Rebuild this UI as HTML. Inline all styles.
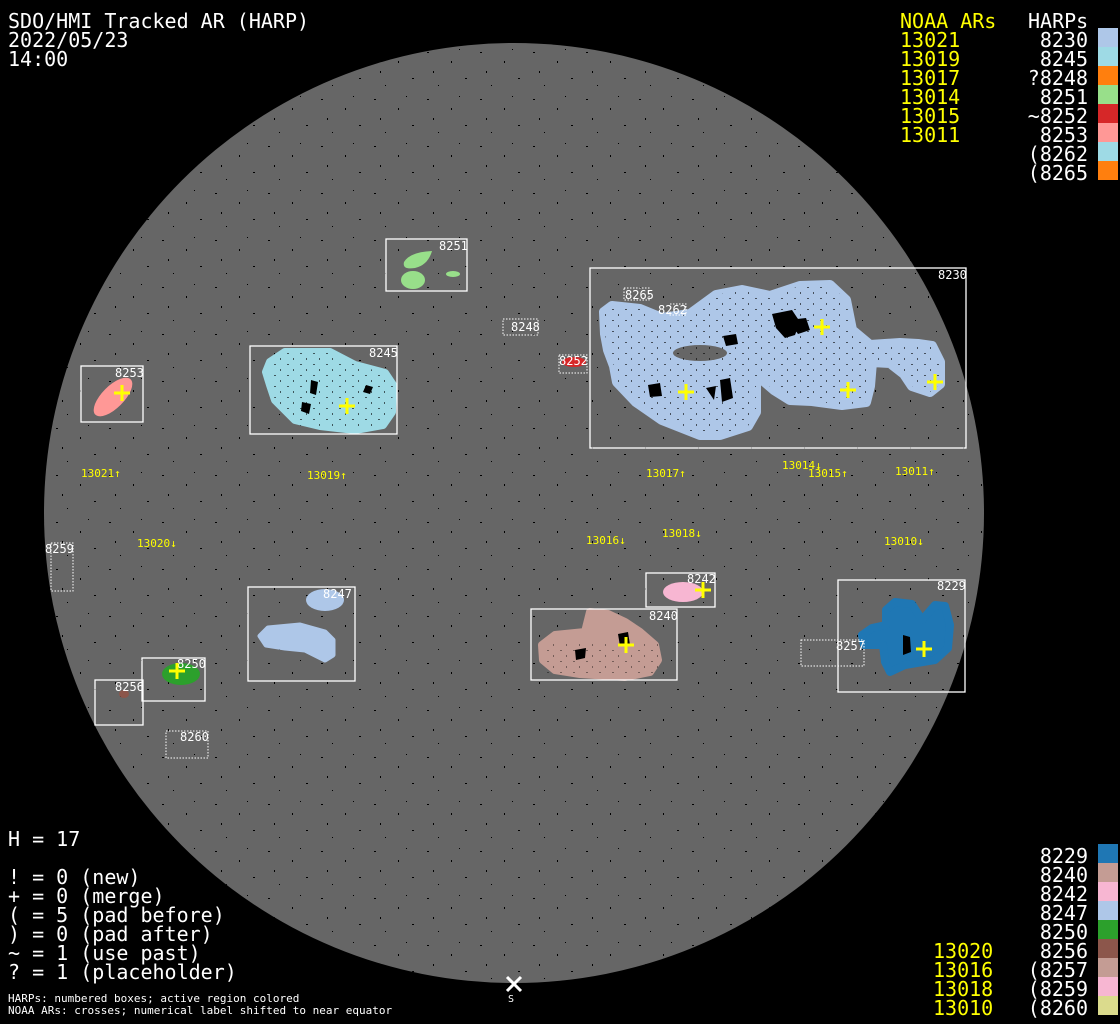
<!DOCTYPE html>
<html><head><meta charset="utf-8"><style>
html,body{margin:0;padding:0;background:#000;}
svg{display:block}
text{font-family:"DejaVu Sans Mono","Liberation Mono",monospace;}
</style></head><body>
<svg width="1120" height="1024" viewBox="0 0 1120 1024" xmlns="http://www.w3.org/2000/svg">
<defs>
<pattern id="dots" width="53" height="47" patternUnits="userSpaceOnUse">
<rect x="3" y="5" width="2" height="1" fill="#000"/>
<rect x="27" y="14" width="1" height="2" fill="#000"/>
<rect x="41" y="31" width="2" height="1" fill="#000"/>
<rect x="14" y="38" width="1" height="1" fill="#000"/>
<rect x="35" y="2" width="1" height="1" fill="#000"/>
<rect x="9" y="24" width="1" height="2" fill="#000"/>
</pattern>
<pattern id="spots" width="13" height="11" patternUnits="userSpaceOnUse">
<rect x="1" y="1" width="2" height="1" fill="#000"/>
<rect x="7" y="6" width="1" height="2" fill="#000"/>
</pattern>
<clipPath id="disk"><circle cx="514" cy="513" r="470"/></clipPath>
</defs>
<rect width="1120" height="1024" fill="#000"/>
<circle cx="514" cy="513" r="470" fill="#666"/>
<rect x="40" y="40" width="950" height="950" fill="url(#dots)" clip-path="url(#disk)"/>

<g stroke-linejoin="round">
<path d="M604,312 L612,306 L640,309 L662,318 L690,314 L716,295 L742,290 L770,296 L800,286 L830,285 L846,300 L852,330 L870,345 L900,343 L918,344 L932,346 L940,362 L940,384 L930,392 L912,386 L904,374 L890,363 L872,362 L870,386 L866,402 L842,405 L812,401 L790,400 L774,390 L760,378 L756,384 L756,412 L748,426 L720,435 L700,435 L662,420 L636,402 L617,382 L614,366 L608,350 L605,334 Z" fill="#aec7e8" stroke="#aec7e8" stroke-width="10"/>
<ellipse cx="700" cy="353" rx="27" ry="8" fill="#666"/>
<path d="M604,312 L612,306 L640,309 L662,318 L690,314 L716,295 L742,290 L770,296 L800,286 L830,285 L846,300 L852,330 L870,345 L900,343 L918,344 L932,346 L940,362 L940,384 L930,392 L912,386 L904,374 L890,363 L872,362 L870,386 L866,402 L842,405 L812,401 L790,400 L774,390 L760,378 L756,384 L756,412 L748,426 L720,435 L700,435 L662,420 L636,402 L617,382 L614,366 L608,350 L605,334 Z" fill="url(#spots)" opacity="0.6"/>
<path d="M772,314 L792,310 L800,322 L795,335 L785,338 L776,328Z M788,320 L806,318 L810,330 L798,334Z M720,380 L730,378 L733,398 L722,402Z M706,388 L716,386 L714,400Z M648,385 L660,383 L662,396 L650,397Z M723,336 L736,334 L738,344 L726,346Z" fill="#000"/>

<path d="M270,362 L285,352 L330,352 L355,365 L385,373 L393,385 L392,412 L383,425 L355,430 L320,426 L295,420 L275,400 L270,385 L266,372 Z" fill="#9edae5" stroke="#9edae5" stroke-width="8"/>
<path d="M270,362 L285,352 L330,352 L355,365 L385,373 L393,385 L392,412 L383,425 L355,430 L320,426 L295,420 L275,400 L270,385 Z" fill="url(#spots)" opacity="0.6"/>
<path d="M311,380 L318,382 L316,395 L310,393Z M302,402 L311,404 L309,414 L301,411Z M366,385 L373,387 L370,394 L363,392Z" fill="#000"/>

<path d="M404,262 Q410,252 432,251 Q428,265 415,268 Q402,270 404,262Z" fill="#98df8a"/>
<ellipse cx="413" cy="280" rx="12" ry="9" fill="#98df8a"/>
<ellipse cx="453" cy="274" rx="7" ry="3" fill="#98df8a"/>

<ellipse cx="113" cy="397" rx="25" ry="11" transform="rotate(-45 113 397)" fill="#ff9896"/>
<ellipse cx="574" cy="362" rx="12" ry="5" fill="#d62728"/>

<path d="M268,628 L300,625 L325,632 L333,640 L333,655 L325,660 L305,650 L285,648 L266,645 L260,636Z" fill="#aec7e8" stroke="#aec7e8" stroke-width="5" stroke-linejoin="round"/>
<ellipse cx="325" cy="600" rx="19" ry="11" fill="#aec7e8"/>
<ellipse cx="683" cy="592" rx="20" ry="10" fill="#f7b6d2"/>
<path d="M590,612 L608,614 L625,622 L640,632 L655,645 L658,660 L650,672 L625,677 L580,674 L555,670 L543,660 L542,645 L555,635 L585,632 L588,620Z" fill="#c49c94" stroke="#c49c94" stroke-width="8" stroke-linejoin="round"/>
<path d="M542,640 L660,640 L660,675 L542,675Z" fill="url(#spots)" opacity="0.4"/>
<path d="M575,650 L586,648 L585,658 L576,660Z M618,634 L628,632 L630,645 L620,646Z" fill="#000"/>
<path d="M895,602 L912,604 L922,620 L935,605 L945,606 L950,625 L948,648 L935,660 L905,665 L890,672 L885,662 L883,645 L864,645 L862,635 L872,628 L886,625 L886,610Z" fill="#1f77b4" stroke="#1f77b4" stroke-width="8" stroke-linejoin="round"/>
<path d="M903,635 L910,637 L911,652 L903,655Z" fill="#000"/>
<ellipse cx="181" cy="674" rx="19" ry="11" fill="#2ca02c"/>
<ellipse cx="124" cy="694" rx="5" ry="4" fill="#8c564b"/>
</g>

<g fill="none" stroke="#fff" stroke-width="1.3">
<rect x="590" y="268" width="376" height="180"/>
<rect x="250" y="346" width="147" height="88"/>
<rect x="386" y="239" width="81" height="52"/>
<rect x="81" y="366" width="62" height="56"/>
<rect x="248" y="587" width="107" height="94"/>
<rect x="646" y="573" width="69" height="34"/>
<rect x="531" y="609" width="146" height="71"/>
<rect x="838" y="580" width="127" height="112"/>
<rect x="142" y="658" width="63" height="43"/>
<rect x="95" y="680" width="48" height="45"/>
</g>
<g fill="none" stroke="#fff" stroke-width="1" stroke-dasharray="1.5,1.5">
<rect x="503" y="319" width="35" height="16"/>
<rect x="559" y="355" width="28" height="18"/>
<rect x="801" y="640" width="63" height="26"/>
<rect x="166" y="731" width="42" height="27"/>
<rect x="51" y="543" width="22" height="48"/>
<rect x="624" y="288" width="25" height="12"/>
<rect x="670" y="304" width="16" height="11"/>
</g>
<g fill="#fff" font-size="12">
<text x="938" y="279">8230</text>
<text x="369" y="357">8245</text>
<text x="439" y="250">8251</text>
<text x="115" y="377">8253</text>
<text x="511" y="331">8248</text>
<text x="559" y="365">8252</text>
<text x="625" y="299">8265</text>
<text x="658" y="314">8262</text>
<text x="323" y="598">8247</text>
<text x="687" y="583">8242</text>
<text x="649" y="620">8240</text>
<text x="937" y="590">8229</text>
<text x="836" y="650">8257</text>
<text x="177" y="668">8250</text>
<text x="115" y="691">8256</text>
<text x="180" y="741">8260</text>
<text x="45" y="553">8259</text>
</g>

<g stroke="#ff0" stroke-width="3">
<path d="M114,393h16M122,385v16"/>
<path d="M339,406h16M347,398v16"/>
<path d="M814,327h16M822,319v16"/>
<path d="M678,392h16M686,384v16"/>
<path d="M840,390h16M848,382v16"/>
<path d="M927,382h16M935,374v16"/>
<path d="M695,590h16M703,582v16"/>
<path d="M618,645h16M626,637v16"/>
<path d="M916,649h16M924,641v16"/>
<path d="M169,671h16M177,663v16"/>
</g>

<g fill="#ff0" font-size="11">
<text x="81" y="477">13021↑</text>
<text x="307" y="479">13019↑</text>
<text x="646" y="477">13017↑</text>
<text x="782" y="469">13014↓</text>
<text x="808" y="477">13015↑</text>
<text x="895" y="475">13011↑</text>
<text x="137" y="547">13020↓</text>
<text x="586" y="544">13016↓</text>
<text x="662" y="537">13018↓</text>
<text x="884" y="545">13010↓</text>
</g>

<path d="M507,977l14,14M521,977l-14,14" stroke="#fff" stroke-width="3"/>
<text x="508" y="1002" fill="#fff" font-size="10">S</text>

<g fill="#fff" font-size="20">
<text x="8" y="28">SDO/HMI Tracked AR (HARP)</text>
<text x="8" y="47">2022/05/23</text>
<text x="8" y="66">14:00</text>
</g>

<g font-size="20">
<text x="900" y="28" fill="#ff0">NOAA ARs</text>
<text x="1028" y="28" fill="#fff">HARPs</text>
<g fill="#ff0">
<text x="900" y="47">13021</text><text x="900" y="66">13019</text><text x="900" y="85">13017</text>
<text x="900" y="104">13014</text><text x="900" y="123">13015</text><text x="900" y="142">13011</text>
</g>
<g fill="#fff" text-anchor="end">
<text x="1088" y="47">8230</text><text x="1088" y="66">8245</text><text x="1088" y="85">?8248</text>
<text x="1088" y="104">8251</text><text x="1088" y="123">~8252</text><text x="1088" y="142">8253</text>
<text x="1088" y="161">(8262</text><text x="1088" y="180">(8265</text>
</g>
</g>
<rect x="1098" y="28" width="20" height="19" fill="#aec7e8"/>
<rect x="1098" y="47" width="20" height="19" fill="#9edae5"/>
<rect x="1098" y="66" width="20" height="19" fill="#ff7f0e"/>
<rect x="1098" y="85" width="20" height="19" fill="#98df8a"/>
<rect x="1098" y="104" width="20" height="19" fill="#d62728"/>
<rect x="1098" y="123" width="20" height="19" fill="#ff9896"/>
<rect x="1098" y="142" width="20" height="19" fill="#9edae5"/>
<rect x="1098" y="161" width="20" height="19" fill="#ff7f0e"/>

<g fill="#fff" font-size="20">
<text x="8" y="846">H = 17</text>
<text x="8" y="884">! = 0 (new)</text>
<text x="8" y="903">+ = 0 (merge)</text>
<text x="8" y="922">( = 5 (pad before)</text>
<text x="8" y="941">) = 0 (pad after)</text>
<text x="8" y="960">~ = 1 (use past)</text>
<text x="8" y="979">? = 1 (placeholder)</text>
</g>
<g fill="#fff" font-size="11">
<text x="8" y="1002">HARPs: numbered boxes; active region colored</text>
<text x="8" y="1014">NOAA ARs: crosses; numerical label shifted to near equator</text>
</g>

<g font-size="20">
<g fill="#fff" text-anchor="end">
<text x="1088" y="863">8229</text><text x="1088" y="882">8240</text><text x="1088" y="901">8242</text>
<text x="1088" y="920">8247</text><text x="1088" y="939">8250</text><text x="1088" y="958">8256</text>
<text x="1088" y="977">(8257</text><text x="1088" y="996">(8259</text><text x="1088" y="1015">(8260</text>
</g>
<g fill="#ff0">
<text x="933" y="958">13020</text><text x="933" y="977">13016</text><text x="933" y="996">13018</text><text x="933" y="1015">13010</text>
</g>
</g>
<rect x="1098" y="844" width="20" height="19" fill="#1f77b4"/>
<rect x="1098" y="863" width="20" height="19" fill="#c49c94"/>
<rect x="1098" y="882" width="20" height="19" fill="#f7b6d2"/>
<rect x="1098" y="901" width="20" height="19" fill="#aec7e8"/>
<rect x="1098" y="920" width="20" height="19" fill="#2ca02c"/>
<rect x="1098" y="939" width="20" height="19" fill="#8c564b"/>
<rect x="1098" y="958" width="20" height="19" fill="#c49c94"/>
<rect x="1098" y="977" width="20" height="19" fill="#f7b6d2"/>
<rect x="1098" y="996" width="20" height="19" fill="#dbdb8d"/>
</svg>
</body></html>
